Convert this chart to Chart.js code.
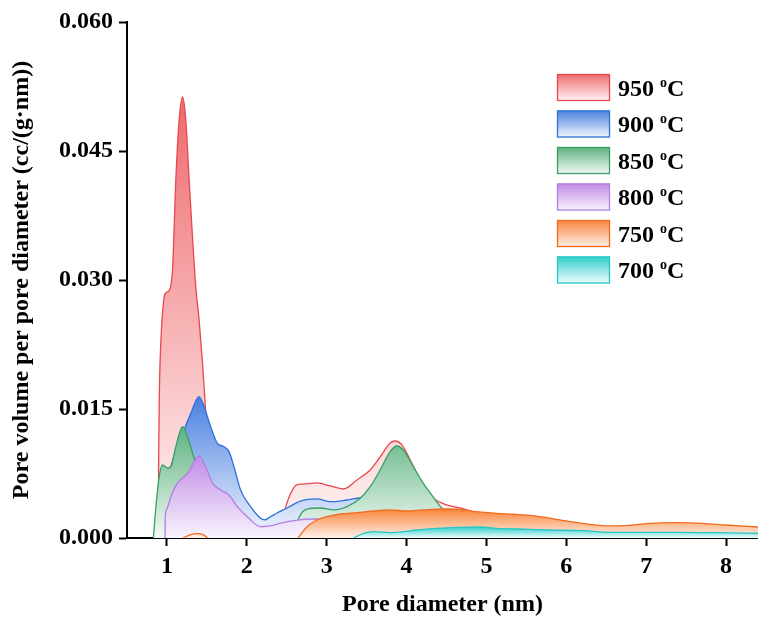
<!DOCTYPE html>
<html>
<head>
<meta charset="utf-8">
<script src="https://cdn.jsdelivr.net/npm/chart.js@4.4.1/dist/chart.umd.min.js"></script>
<style>
  html, body { margin: 0; padding: 0; background: #fff; }
  #wrap { width: 758px; height: 617px; }
</style>
</head>
<body>
<div id="wrap"><canvas id="psd" width="758" height="617"></canvas></div>
<script>
// ---- data ----
const temps = ['950', '900', '850', '800', '750', '700']

const dia950 = [0.89, 0.897, 0.905, 0.93, 0.965, 0.987, 1.028, 1.07, 1.111, 1.153, 1.195, 1.236, 1.278, 1.32, 1.361, 1.402, 1.445, 1.486, 1.53, 1.6, 1.75, 2.0, 2.3, 2.44, 2.484, 2.55, 2.63, 2.75, 2.88, 3.046, 3.208, 3.379, 3.545, 3.669, 3.794, 3.857, 3.94, 4.065, 4.206, 4.331, 4.502, 4.668, 4.9, 5.2, 5.5, 6.0, 6.5, 7.0, 7.5, 8.0, 8.4]
const pv950 = [0, 0.010, 0.0168, 0.024, 0.028, 0.0285, 0.0288, 0.0312, 0.0416, 0.0486, 0.0513, 0.0486, 0.0416, 0.035, 0.0292, 0.0254, 0.0204, 0.0145, 0.008, 0.0035, 0.0018, 0.0012, 0.0012, 0.0018, 0.0035, 0.0052, 0.0062, 0.0063, 0.0064, 0.00605, 0.0057, 0.00675, 0.00791, 0.00942, 0.01105, 0.01128, 0.01082, 0.00872, 0.00593, 0.00465, 0.00384, 0.00349, 0.0029, 0.0027, 0.0024, 0.0018, 0.0013, 0.0015, 0.0016, 0.0014, 0.0012]

const dia900 = [0.87, 0.92, 0.97, 1.02, 1.049, 1.09, 1.15, 1.215, 1.299, 1.402, 1.465, 1.548, 1.632, 1.714, 1.777, 1.839, 1.922, 2.047, 2.172, 2.22, 2.3, 2.38, 2.505, 2.671, 2.88, 3.046, 3.254, 3.42, 3.6, 3.9, 4.2, 4.5, 5.0, 6.0, 7.0, 8.0, 8.4]
const pv900 = [0, 0.004, 0.0065, 0.0076, 0.0083, 0.0095, 0.0108, 0.01256, 0.0145, 0.01643, 0.01527, 0.01294, 0.0110, 0.01062, 0.01004, 0.00829, 0.00558, 0.00364, 0.00229, 0.0021, 0.0025, 0.00291, 0.00349, 0.0043, 0.00454, 0.00422, 0.00442, 0.00465, 0.0044, 0.0038, 0.003, 0.0024, 0.0020, 0.0012, 0.0009, 0.0008, 0.0007]

const dia850 = [0.83, 0.862, 0.903, 0.945, 1.008, 1.049, 1.111, 1.195, 1.257, 1.34, 1.45, 1.6, 1.8, 2.0, 2.3, 2.55, 2.62, 2.65, 2.755, 2.921, 3.083, 3.254, 3.42, 3.545, 3.669, 3.794, 3.878, 3.96, 4.085, 4.206, 4.331, 4.439, 4.6, 5.0]
const pv850 = [0, 0.00364, 0.00713, 0.00849, 0.00814, 0.00829, 0.01062, 0.01294, 0.01178, 0.0093, 0.0062, 0.0038, 0.0018, 0.0008, 0.0005, 0.0006, 0.0012, 0.0023, 0.00337, 0.00349, 0.00326, 0.00364, 0.00462, 0.00597, 0.00791, 0.01004, 0.0107, 0.01023, 0.00829, 0.0064, 0.0048, 0.00349, 0.0022, 0.001]

const dia800 = [0.976, 0.98, 1.0, 1.049, 1.133, 1.257, 1.402, 1.486, 1.569, 1.673, 1.777, 1.881, 2.006, 2.172, 2.297, 2.422, 2.63, 2.833, 3.004, 3.2, 3.5, 4.0, 5.0, 6.0, 7.0, 8.4]
const pv800 = [0, 0.0025, 0.0034, 0.0048, 0.0064, 0.0075, 0.00954, 0.00829, 0.0064, 0.00558, 0.005, 0.00364, 0.00248, 0.00131, 0.0014, 0.00174, 0.00209, 0.00221, 0.00209, 0.0018, 0.0014, 0.001, 0.0006, 0.0004, 0.0003, 0.0002]

const dia750 = [1.2, 1.3, 1.38, 1.45, 1.51, 1.6, 2.64, 2.755, 2.88, 3.004, 3.17, 3.379, 3.582, 3.794, 4.002, 4.206, 4.456, 4.668, 4.876, 5.126, 5.329, 5.579, 6.0, 6.29, 6.54, 6.748, 7.039, 7.372, 7.7, 7.996, 8.4]
const pv750 = [0, 0.0004, 0.0005, 0.0004, 0, null, 0, 0.00131, 0.00209, 0.00248, 0.00279, 0.00294, 0.00314, 0.00326, 0.00314, 0.00326, 0.00337, 0.00334, 0.00306, 0.00287, 0.00276, 0.00259, 0.00198, 0.00159, 0.0014, 0.00143, 0.00171, 0.00178, 0.00171, 0.00151, 0.00128]

const dia700 = [3.336, 3.461, 3.582, 3.794, 3.96, 4.126, 4.377, 4.627, 4.917, 5.126, 5.541, 5.79, 6.2, 6.54, 7.04, 7.45, 7.87, 8.4]
const pv700 = [0, 0.00055, 0.00073, 0.00062, 0.00073, 0.00093, 0.00113, 0.00124, 0.00128, 0.00113, 0.00101, 0.00093, 0.00085, 0.00066, 0.00066, 0.00066, 0.00062, 0.00055]

const xTicks = [1, 2, 3, 4, 5, 6, 7, 8]
const yTicks = [0, 0.015, 0.03, 0.045, 0.06]

// ---- styles ----
const lineColors = ['#e8474c', '#2e6fd8', '#3a9e66', '#b27ee2', '#f26c1c', '#27c6c6']
const topColors = ['#ee6a6e', '#4a80e0', '#5db27f', '#c08ce6', '#f7843a', '#30cfcc']
const lowColors = ['#fff6f6', '#f3f7fe', '#f3faf6', '#f9f4fd', '#fff1ea', '#f0fcfc']
const FONT = "'Liberation Serif', 'Times New Roman', serif"

const allDia = [dia950, dia900, dia850, dia800, dia750, dia700]
const allPv = [pv950, pv900, pv850, pv800, pv750, pv700]

const toPoints = (xs, ys) => xs.map((x, i) => ({ x, y: ys[i] }))

const areaFill = idx => ctx => {
  const chart = ctx.chart
  if (!chart.chartArea || !chart.scales.y) return topColors[idx]
  const peak = Math.max(...allPv[idx].filter(v => v !== null))
  const y0 = chart.scales.y.getPixelForValue(peak)
  const y1 = chart.scales.y.getPixelForValue(0)
  const g = chart.ctx.createLinearGradient(0, y0, 0, y1)
  g.addColorStop(0, topColors[idx])
  g.addColorStop(1, lowColors[idx])
  return g
}

const datasets = temps.map((t, i) => ({
  label: t + ' °C',
  data: toPoints(allDia[i], allPv[i]),
  borderColor: lineColors[i],
  borderWidth: 1.3,
  backgroundColor: areaFill(i),
  fill: 'origin',
  pointRadius: 0,
  cubicInterpolationMode: 'monotone',
  spanGaps: false,
  order: temps.length - i, // 950 behind, 700 in front
}))

// legend drawn inside the plot, top right
const tempLegend = {
  id: 'tempLegend',
  afterDraw(chart) {
    const { ctx } = chart
    const bx = 557, bw = 53, bh = 27, top = 74, step = 36.5
    ctx.save()
    temps.forEach((t, i) => {
      const by = top + i * step
      const g = ctx.createLinearGradient(0, by, 0, by + bh)
      g.addColorStop(0, topColors[i])
      g.addColorStop(1, lowColors[i])
      ctx.fillStyle = g
      ctx.fillRect(bx, by, bw, bh)
      ctx.strokeStyle = lineColors[i]
      ctx.lineWidth = 1.3
      ctx.strokeRect(bx + 0.5, by + 0.5, bw - 1, bh - 1)

      const cy = by + bh / 2 + 8
      let tx = 618
      ctx.fillStyle = '#000'
      ctx.textBaseline = 'alphabetic'
      ctx.textAlign = 'left'
      ctx.font = 'bold 24px ' + FONT
      const num = t + ' '
      ctx.fillText(num, tx, cy)
      tx += ctx.measureText(num).width
      ctx.font = 'bold 14px ' + FONT
      ctx.fillText('o', tx, cy - 9)
      tx += ctx.measureText('o').width
      ctx.font = 'bold 24px ' + FONT
      ctx.fillText('C', tx, cy)
    })
    ctx.restore()
  },
}

new Chart(document.getElementById('psd'), {
  type: 'line',
  data: { datasets },
  plugins: [tempLegend],
  options: {
    responsive: false,
    animation: false,
    layout: { padding: { top: 22, right: 0, left: 0, bottom: 0 } },
    plugins: {
      legend: { display: false },
      tooltip: { enabled: false },
    },
    scales: {
      x: {
        type: 'linear',
        min: 0.5,
        max: 8.4,
        afterBuildTicks: axis => { axis.ticks = xTicks.map(v => ({ value: v })) },
        afterFit: axis => { axis.height = 79 },
        border: { display: true, color: '#000', width: 2 },
        grid: { display: true, drawOnChartArea: false, drawTicks: true, tickLength: 8, tickWidth: 2, tickColor: '#000' },
        ticks: {
          color: '#000',
          padding: 6,
          maxRotation: 0,
          font: { family: FONT, size: 24, weight: 'bold' },
        },
        title: {
          display: true,
          text: 'Pore diameter (nm)',
          color: '#000',
          padding: { top: 0, bottom: 0 },
          font: { family: FONT, size: 24, weight: 'bold', lineHeight: 1 },
        },
      },
      y: {
        min: 0,
        max: 0.06,
        afterBuildTicks: axis => { axis.ticks = yTicks.map(v => ({ value: v })) },
        afterFit: axis => { axis.width = 127 },
        border: { display: true, color: '#000', width: 2 },
        grid: { display: true, drawOnChartArea: false, drawTicks: true, tickLength: 8, tickWidth: 2, tickColor: '#000' },
        ticks: {
          color: '#000',
          padding: 6,
          font: { family: FONT, size: 24, weight: 'bold' },
          callback: v => Number(v).toFixed(3),
        },
        title: {
          display: true,
          text: 'Pore volume per pore diameter (cc/(g·nm))',
          color: '#000',
          padding: { top: 10, bottom: 0 },
          font: { family: FONT, size: 24, weight: 'bold', lineHeight: 1 },
        },
      },
    },
  },
})
</script>
</body>
</html>
